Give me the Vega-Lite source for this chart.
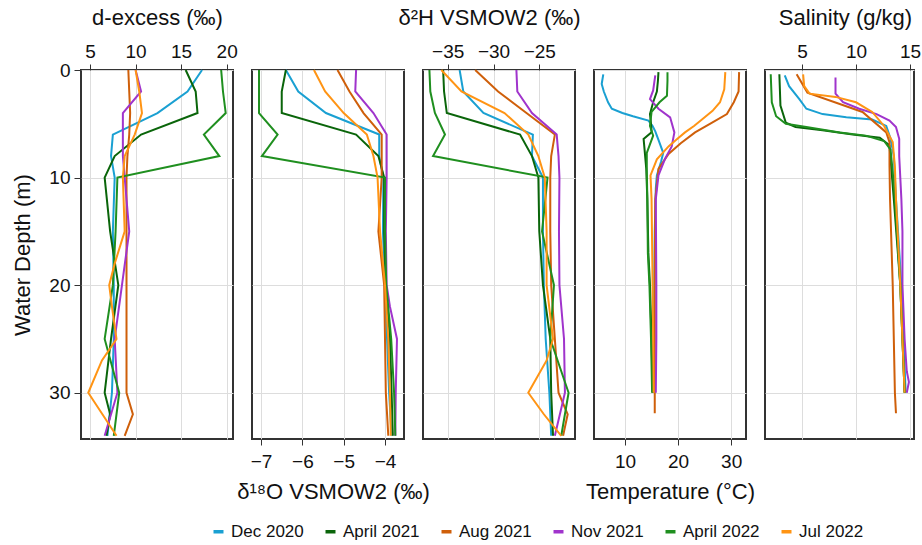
{
"$schema": "https://vega.github.io/schema/vega-lite/v6.json",
"padding": {"left": 10, "top": 5, "right": 5, "bottom": 5},
"background": "white",
"bounds": "flush",
"spacing": 19,
"datasets": {
"dex": [
{"s":"Dec 2020","d":0,"v":17.3},{"s":"Dec 2020","d":2,"v":15.7},{"s":"Dec 2020","d":4,"v":12.4},{"s":"Dec 2020","d":6,"v":7.5},{"s":"Dec 2020","d":8,"v":7.3},{"s":"Dec 2020","d":10,"v":7.7},{"s":"Dec 2020","d":15,"v":7.5},{"s":"Dec 2020","d":20,"v":7.6},{"s":"Dec 2020","d":25,"v":7.6},{"s":"Dec 2020","d":30,"v":7.4},{"s":"Dec 2020","d":34,"v":6.9},
{"s":"April 2021","d":0,"v":15.5},{"s":"April 2021","d":2,"v":16.6},{"s":"April 2021","d":4,"v":16.8},{"s":"April 2021","d":6,"v":10.6},{"s":"April 2021","d":8,"v":7.7},{"s":"April 2021","d":10,"v":6.6},{"s":"April 2021","d":15,"v":7.2},{"s":"April 2021","d":20,"v":8.1},{"s":"April 2021","d":25,"v":7.3},{"s":"April 2021","d":30,"v":6.6},{"s":"April 2021","d":32,"v":7.2},{"s":"April 2021","d":34,"v":6.8},
{"s":"Aug 2021","d":0,"v":9.2},{"s":"Aug 2021","d":2,"v":9.3},{"s":"Aug 2021","d":4,"v":9.4},{"s":"Aug 2021","d":6,"v":9.3},{"s":"Aug 2021","d":8,"v":9.1},{"s":"Aug 2021","d":10,"v":9.0},{"s":"Aug 2021","d":15,"v":9.0},{"s":"Aug 2021","d":20,"v":9.0},{"s":"Aug 2021","d":25,"v":9.0},{"s":"Aug 2021","d":30,"v":9.0},{"s":"Aug 2021","d":32,"v":9.7},{"s":"Aug 2021","d":34,"v":8.8},
{"s":"Nov 2021","d":0,"v":10.0},{"s":"Nov 2021","d":2,"v":10.6},{"s":"Nov 2021","d":4,"v":8.6},{"s":"Nov 2021","d":6,"v":8.6},{"s":"Nov 2021","d":8,"v":8.6},{"s":"Nov 2021","d":10,"v":8.8},{"s":"Nov 2021","d":15,"v":9.3},{"s":"Nov 2021","d":20,"v":8.5},{"s":"Nov 2021","d":25,"v":7.7},{"s":"Nov 2021","d":30,"v":8.0},{"s":"Nov 2021","d":34,"v":6.6},
{"s":"April 2022","d":0,"v":19.4},{"s":"April 2022","d":2,"v":19.6},{"s":"April 2022","d":4,"v":19.9},{"s":"April 2022","d":6,"v":17.5},{"s":"April 2022","d":8,"v":19.2},{"s":"April 2022","d":10,"v":8.0},{"s":"April 2022","d":15,"v":7.8},{"s":"April 2022","d":20,"v":7.5},{"s":"April 2022","d":25,"v":6.6},{"s":"April 2022","d":30,"v":8.2},{"s":"April 2022","d":34,"v":7.6},
{"s":"Jul 2022","d":0,"v":10.0},{"s":"Jul 2022","d":2,"v":10.4},{"s":"Jul 2022","d":4,"v":10.7},{"s":"Jul 2022","d":6,"v":9.9},{"s":"Jul 2022","d":8,"v":8.8},{"s":"Jul 2022","d":10,"v":8.6},{"s":"Jul 2022","d":15,"v":8.8},{"s":"Jul 2022","d":18,"v":7.7},{"s":"Jul 2022","d":20,"v":7.1},{"s":"Jul 2022","d":22,"v":7.4},{"s":"Jul 2022","d":25,"v":7.9},{"s":"Jul 2022","d":27,"v":6.3},{"s":"Jul 2022","d":30,"v":4.8},{"s":"Jul 2022","d":34,"v":7.9}
],
"o18": [
{"s":"Dec 2020","d":0,"v":-6.4},{"s":"Dec 2020","d":2,"v":-6.1},{"s":"Dec 2020","d":4,"v":-5.43},{"s":"Dec 2020","d":6,"v":-4.14},{"s":"Dec 2020","d":8,"v":-4.14},{"s":"Dec 2020","d":10,"v":-4.04},{"s":"Dec 2020","d":15,"v":-4.05},{"s":"Dec 2020","d":20,"v":-4.0},{"s":"Dec 2020","d":25,"v":-3.95},{"s":"Dec 2020","d":30,"v":-3.9},{"s":"Dec 2020","d":34,"v":-3.84},
{"s":"April 2021","d":0,"v":-6.4},{"s":"April 2021","d":2,"v":-6.5},{"s":"April 2021","d":4,"v":-6.5},{"s":"April 2021","d":6,"v":-4.7},{"s":"April 2021","d":8,"v":-4.16},{"s":"April 2021","d":10,"v":-4.02},{"s":"April 2021","d":15,"v":-4.02},{"s":"April 2021","d":20,"v":-3.98},{"s":"April 2021","d":25,"v":-3.88},{"s":"April 2021","d":30,"v":-3.84},{"s":"April 2021","d":34,"v":-3.81},
{"s":"Aug 2021","d":0,"v":-5.15},{"s":"Aug 2021","d":2,"v":-4.86},{"s":"Aug 2021","d":4,"v":-4.52},{"s":"Aug 2021","d":6,"v":-4.08},{"s":"Aug 2021","d":8,"v":-4.08},{"s":"Aug 2021","d":10,"v":-4.08},{"s":"Aug 2021","d":15,"v":-4.16},{"s":"Aug 2021","d":20,"v":-4.02},{"s":"Aug 2021","d":25,"v":-4.0},{"s":"Aug 2021","d":30,"v":-3.98},{"s":"Aug 2021","d":34,"v":-3.92},
{"s":"Nov 2021","d":0,"v":-4.7},{"s":"Nov 2021","d":2,"v":-4.72},{"s":"Nov 2021","d":4,"v":-4.28},{"s":"Nov 2021","d":6,"v":-3.96},{"s":"Nov 2021","d":8,"v":-3.96},{"s":"Nov 2021","d":10,"v":-3.96},{"s":"Nov 2021","d":15,"v":-3.98},{"s":"Nov 2021","d":20,"v":-3.96},{"s":"Nov 2021","d":22,"v":-3.88},{"s":"Nov 2021","d":25,"v":-3.71},{"s":"Nov 2021","d":30,"v":-3.74},{"s":"Nov 2021","d":34,"v":-3.75},
{"s":"April 2022","d":0,"v":-7.05},{"s":"April 2022","d":2,"v":-7.05},{"s":"April 2022","d":4,"v":-7.05},{"s":"April 2022","d":6,"v":-6.6},{"s":"April 2022","d":8,"v":-6.98},{"s":"April 2022","d":10,"v":-4.0},{"s":"April 2022","d":15,"v":-4.0},{"s":"April 2022","d":20,"v":-3.97},{"s":"April 2022","d":25,"v":-3.85},{"s":"April 2022","d":30,"v":-3.78},{"s":"April 2022","d":34,"v":-3.75},
{"s":"Jul 2022","d":0,"v":-5.72},{"s":"Jul 2022","d":2,"v":-5.45},{"s":"Jul 2022","d":4,"v":-5.0},{"s":"Jul 2022","d":6,"v":-4.44},{"s":"Jul 2022","d":8,"v":-4.28},{"s":"Jul 2022","d":10,"v":-4.18},{"s":"Jul 2022","d":15,"v":-4.12},{"s":"Jul 2022","d":20,"v":-4.0},{"s":"Jul 2022","d":25,"v":-3.92},{"s":"Jul 2022","d":30,"v":-3.88},{"s":"Jul 2022","d":34,"v":-3.86}
],
"h2": [
{"s":"Dec 2020","d":0,"v":-33.7},{"s":"Dec 2020","d":2,"v":-33.3},{"s":"Dec 2020","d":4,"v":-31.1},{"s":"Dec 2020","d":6,"v":-25.7},{"s":"Dec 2020","d":8,"v":-25.8},{"s":"Dec 2020","d":10,"v":-24.6},{"s":"Dec 2020","d":15,"v":-24.6},{"s":"Dec 2020","d":20,"v":-24.5},{"s":"Dec 2020","d":25,"v":-24.3},{"s":"Dec 2020","d":30,"v":-23.9},{"s":"Dec 2020","d":34,"v":-23.7},
{"s":"April 2021","d":0,"v":-35.5},{"s":"April 2021","d":2,"v":-35.4},{"s":"April 2021","d":4,"v":-35.1},{"s":"April 2021","d":6,"v":-27.1},{"s":"April 2021","d":8,"v":-25.8},{"s":"April 2021","d":10,"v":-25.1},{"s":"April 2021","d":15,"v":-25.0},{"s":"April 2021","d":20,"v":-24.6},{"s":"April 2021","d":25,"v":-23.8},{"s":"April 2021","d":30,"v":-23.7},{"s":"April 2021","d":34,"v":-23.5},
{"s":"Aug 2021","d":0,"v":-32.0},{"s":"Aug 2021","d":2,"v":-29.5},{"s":"Aug 2021","d":4,"v":-26.4},{"s":"Aug 2021","d":6,"v":-23.3},{"s":"Aug 2021","d":8,"v":-23.7},{"s":"Aug 2021","d":10,"v":-23.8},{"s":"Aug 2021","d":15,"v":-23.8},{"s":"Aug 2021","d":20,"v":-23.7},{"s":"Aug 2021","d":25,"v":-23.3},{"s":"Aug 2021","d":30,"v":-22.9},{"s":"Aug 2021","d":32,"v":-21.9},{"s":"Aug 2021","d":34,"v":-22.4},
{"s":"Nov 2021","d":0,"v":-27.5},{"s":"Nov 2021","d":2,"v":-27.4},{"s":"Nov 2021","d":4,"v":-25.8},{"s":"Nov 2021","d":6,"v":-23.1},{"s":"Nov 2021","d":8,"v":-22.9},{"s":"Nov 2021","d":10,"v":-22.8},{"s":"Nov 2021","d":15,"v":-22.85},{"s":"Nov 2021","d":20,"v":-22.8},{"s":"Nov 2021","d":25,"v":-22.3},{"s":"Nov 2021","d":30,"v":-22.2},{"s":"Nov 2021","d":34,"v":-23.3},
{"s":"April 2022","d":0,"v":-37.0},{"s":"April 2022","d":2,"v":-36.9},{"s":"April 2022","d":4,"v":-36.4},{"s":"April 2022","d":6,"v":-35.3},{"s":"April 2022","d":8,"v":-36.6},{"s":"April 2022","d":10,"v":-24.1},{"s":"April 2022","d":15,"v":-24.7},{"s":"April 2022","d":20,"v":-23.4},{"s":"April 2022","d":25,"v":-23.8},{"s":"April 2022","d":30,"v":-21.8},{"s":"April 2022","d":34,"v":-22.6},
{"s":"Jul 2022","d":0,"v":-35.7},{"s":"Jul 2022","d":2,"v":-33.5},{"s":"Jul 2022","d":4,"v":-28.8},{"s":"Jul 2022","d":6,"v":-26.2},{"s":"Jul 2022","d":8,"v":-25.1},{"s":"Jul 2022","d":10,"v":-24.4},{"s":"Jul 2022","d":15,"v":-24.2},{"s":"Jul 2022","d":20,"v":-24.2},{"s":"Jul 2022","d":25,"v":-23.5},{"s":"Jul 2022","d":27,"v":-24.2},{"s":"Jul 2022","d":30,"v":-26.2},{"s":"Jul 2022","d":32,"v":-24.5},{"s":"Jul 2022","d":34,"v":-22.6}
],
"temp": [
{"s":"Dec 2020","d":0.4,"v":5.9},{"s":"Dec 2020","d":1,"v":5.7},{"s":"Dec 2020","d":1.3,"v":5.6},{"s":"Dec 2020","d":2,"v":6.0},{"s":"Dec 2020","d":3,"v":6.8},{"s":"Dec 2020","d":3.6,"v":7.5},{"s":"Dec 2020","d":4,"v":9.5},{"s":"Dec 2020","d":4.3,"v":11.5},{"s":"Dec 2020","d":4.7,"v":14.4},{"s":"Dec 2020","d":5.2,"v":15.2},{"s":"Dec 2020","d":5.7,"v":15.7},{"s":"Dec 2020","d":6.5,"v":16.3},{"s":"Dec 2020","d":7.7,"v":17.2},{"s":"Dec 2020","d":8.5,"v":16.8},{"s":"Dec 2020","d":9.8,"v":16.0},{"s":"Dec 2020","d":11,"v":15.8},{"s":"Dec 2020","d":15,"v":15.6},{"s":"Dec 2020","d":20,"v":15.5},{"s":"Dec 2020","d":25,"v":15.4},{"s":"Dec 2020","d":30,"v":15.3},
{"s":"April 2021","d":0.2,"v":16.3},{"s":"April 2021","d":1,"v":16.2},{"s":"April 2021","d":2,"v":16.0},{"s":"April 2021","d":3,"v":15.3},{"s":"April 2021","d":4.1,"v":14.7},{"s":"April 2021","d":5,"v":14.9},{"s":"April 2021","d":5.8,"v":15.0},{"s":"April 2021","d":6.4,"v":13.5},{"s":"April 2021","d":7.5,"v":13.7},{"s":"April 2021","d":9.2,"v":14.0},{"s":"April 2021","d":12,"v":14.2},{"s":"April 2021","d":17,"v":14.4},{"s":"April 2021","d":20,"v":14.7},{"s":"April 2021","d":25,"v":15.0},{"s":"April 2021","d":30,"v":15.2},
{"s":"Aug 2021","d":0.2,"v":31.5},{"s":"Aug 2021","d":2,"v":31.4},{"s":"Aug 2021","d":3,"v":30.5},{"s":"Aug 2021","d":4.1,"v":29.2},{"s":"Aug 2021","d":5,"v":26.0},{"s":"Aug 2021","d":5.8,"v":23.2},{"s":"Aug 2021","d":6.8,"v":20.5},{"s":"Aug 2021","d":7.8,"v":18.2},{"s":"Aug 2021","d":9.2,"v":16.3},{"s":"Aug 2021","d":12,"v":15.7},{"s":"Aug 2021","d":20,"v":15.6},{"s":"Aug 2021","d":25,"v":15.6},{"s":"Aug 2021","d":30,"v":15.6},{"s":"Aug 2021","d":31.9,"v":15.6},
{"s":"Nov 2021","d":0.5,"v":15.7},{"s":"Nov 2021","d":1.9,"v":15.3},{"s":"Nov 2021","d":2.7,"v":14.7},{"s":"Nov 2021","d":3.6,"v":16.3},{"s":"Nov 2021","d":4.4,"v":18.5},{"s":"Nov 2021","d":5.8,"v":19.3},{"s":"Nov 2021","d":7.1,"v":18.8},{"s":"Nov 2021","d":8.3,"v":17.5},{"s":"Nov 2021","d":9.8,"v":16.3},{"s":"Nov 2021","d":12,"v":15.8},{"s":"Nov 2021","d":20,"v":15.9},{"s":"Nov 2021","d":25,"v":15.9},{"s":"Nov 2021","d":30,"v":15.8},
{"s":"April 2022","d":0.2,"v":18.0},{"s":"April 2022","d":1,"v":18.0},{"s":"April 2022","d":2.4,"v":17.9},{"s":"April 2022","d":3,"v":16.5},{"s":"April 2022","d":3.9,"v":15.0},{"s":"April 2022","d":5.2,"v":14.7},{"s":"April 2022","d":6.1,"v":15.3},{"s":"April 2022","d":7.7,"v":14.1},{"s":"April 2022","d":9.2,"v":14.1},{"s":"April 2022","d":12,"v":14.2},{"s":"April 2022","d":17,"v":14.3},{"s":"April 2022","d":20,"v":14.6},{"s":"April 2022","d":25,"v":14.9},{"s":"April 2022","d":30,"v":15.1},
{"s":"Jul 2022","d":0.2,"v":28.9},{"s":"Jul 2022","d":1.8,"v":28.7},{"s":"Jul 2022","d":3,"v":27.9},{"s":"Jul 2022","d":3.8,"v":26.5},{"s":"Jul 2022","d":4.6,"v":24.5},{"s":"Jul 2022","d":5.2,"v":23.0},{"s":"Jul 2022","d":5.8,"v":21.3},{"s":"Jul 2022","d":6.5,"v":19.6},{"s":"Jul 2022","d":7.1,"v":18.2},{"s":"Jul 2022","d":8.3,"v":16.0},{"s":"Jul 2022","d":9.8,"v":14.8},{"s":"Jul 2022","d":12,"v":15.0},{"s":"Jul 2022","d":20,"v":15.2},{"s":"Jul 2022","d":25,"v":15.3},{"s":"Jul 2022","d":30,"v":15.4}
],
"sal": [
{"s":"Dec 2020","d":0.5,"v":3.4},{"s":"Dec 2020","d":1.5,"v":3.8},{"s":"Dec 2020","d":2.7,"v":4.75},{"s":"Dec 2020","d":3.6,"v":5.4},{"s":"Dec 2020","d":4.1,"v":6.9},{"s":"Dec 2020","d":4.4,"v":9.1},{"s":"Dec 2020","d":4.6,"v":11.5},{"s":"Dec 2020","d":5.2,"v":12.8},{"s":"Dec 2020","d":6.4,"v":13.2},{"s":"Dec 2020","d":8,"v":13.5},{"s":"Dec 2020","d":12,"v":13.7},{"s":"Dec 2020","d":20,"v":14.2},{"s":"Dec 2020","d":25,"v":14.4},{"s":"Dec 2020","d":30,"v":14.6},
{"s":"April 2021","d":0.4,"v":2.9},{"s":"April 2021","d":3.3,"v":3.0},{"s":"April 2021","d":4.9,"v":3.5},{"s":"April 2021","d":5.3,"v":4.4},{"s":"April 2021","d":5.6,"v":6.9},{"s":"April 2021","d":6,"v":9.7},{"s":"April 2021","d":6.3,"v":12.2},{"s":"April 2021","d":7,"v":13.1},{"s":"April 2021","d":8.3,"v":13.2},{"s":"April 2021","d":12,"v":13.5},{"s":"April 2021","d":20,"v":14.1},{"s":"April 2021","d":25,"v":14.3},{"s":"April 2021","d":30,"v":14.5},
{"s":"Aug 2021","d":0.4,"v":4.5},{"s":"Aug 2021","d":2.1,"v":5.5},{"s":"Aug 2021","d":3.9,"v":10.6},{"s":"Aug 2021","d":5.8,"v":12.8},{"s":"Aug 2021","d":6.7,"v":13.1},{"s":"Aug 2021","d":8.9,"v":13.1},{"s":"Aug 2021","d":12,"v":13.15},{"s":"Aug 2021","d":20,"v":13.4},{"s":"Aug 2021","d":25,"v":13.5},{"s":"Aug 2021","d":30,"v":13.6},{"s":"Aug 2021","d":31.9,"v":13.7},
{"s":"Nov 2021","d":0.7,"v":8.1},{"s":"Nov 2021","d":2.2,"v":8.1},{"s":"Nov 2021","d":3,"v":8.8},{"s":"Nov 2021","d":3.6,"v":10.3},{"s":"Nov 2021","d":4.1,"v":11.9},{"s":"Nov 2021","d":4.7,"v":13.1},{"s":"Nov 2021","d":5.3,"v":13.7},{"s":"Nov 2021","d":6.4,"v":14.0},{"s":"Nov 2021","d":8,"v":14.0},{"s":"Nov 2021","d":10,"v":14.1},{"s":"Nov 2021","d":12,"v":14.2},{"s":"Nov 2021","d":15,"v":14.3},{"s":"Nov 2021","d":20,"v":14.3},{"s":"Nov 2021","d":25,"v":14.5},{"s":"Nov 2021","d":28,"v":14.7},{"s":"Nov 2021","d":29,"v":14.9},{"s":"Nov 2021","d":30,"v":14.7},
{"s":"April 2022","d":0.4,"v":2.1},{"s":"April 2022","d":3,"v":2.2},{"s":"April 2022","d":4.3,"v":2.6},{"s":"April 2022","d":5,"v":3.5},{"s":"April 2022","d":5.3,"v":5.4},{"s":"April 2022","d":5.8,"v":8.5},{"s":"April 2022","d":6.1,"v":10.9},{"s":"April 2022","d":6.6,"v":12.6},{"s":"April 2022","d":7.4,"v":13.2},{"s":"April 2022","d":9.5,"v":13.4},{"s":"April 2022","d":12,"v":13.6},{"s":"April 2022","d":20,"v":14.1},{"s":"April 2022","d":25,"v":14.3},{"s":"April 2022","d":30,"v":14.5},
{"s":"Jul 2022","d":0.4,"v":5.1},{"s":"Jul 2022","d":1.5,"v":5.2},{"s":"Jul 2022","d":2.2,"v":5.7},{"s":"Jul 2022","d":2.5,"v":8.1},{"s":"Jul 2022","d":3,"v":10.0},{"s":"Jul 2022","d":3.9,"v":11.5},{"s":"Jul 2022","d":5.2,"v":12.6},{"s":"Jul 2022","d":6.7,"v":13.4},{"s":"Jul 2022","d":9,"v":13.6},{"s":"Jul 2022","d":12,"v":13.7},{"s":"Jul 2022","d":20,"v":14.1},{"s":"Jul 2022","d":25,"v":14.3},{"s":"Jul 2022","d":30,"v":14.5}
]
},
"hconcat": [
{
"data": {"name": "dex"},
"width": 152, "height": 369,
"mark": {"type": "line", "strokeWidth": 2},
"encoding": {
"x": {"field": "v", "type": "quantitative", "scale": {"domain": [4.0, 20.7], "nice": false, "zero": false}, "axis": {"orient": "top", "values": [5,10,15,20], "title": "d-excess (‰)", "titlePadding": 13}},
"y": {"field": "d", "type": "quantitative", "scale": {"domain": [0, 34.3], "nice": false, "reverse": true}, "axis": {"values": [0,10,20,30], "title": "Water Depth (m)", "tickSize": 7, "labelPadding": 4, "titlePadding": 14}},
"order": {"field": "d", "type": "quantitative"},
"color": {"field": "s", "type": "nominal", "scale": {"domain": ["Dec 2020","April 2021","Aug 2021","Nov 2021","April 2022","Jul 2022"], "range": ["#1aa0d2","#0a650a","#cf5f0a","#a034cc","#1f8f1f","#ff9414"]}, "legend": {"orient": "none", "legendX": 129, "legendY": 453, "direction": "horizontal", "title": null}}
}
},
{
"data": {"name": "o18"},
"width": 152, "height": 369,
"mark": {"type": "line", "strokeWidth": 2},
"encoding": {
"x": {"field": "v", "type": "quantitative", "scale": {"domain": [-7.22, -3.54], "nice": false, "zero": false}, "axis": {"orient": "bottom", "values": [-7,-6,-5,-4], "title": "δ¹⁸O VSMOW2 (‰)", "labelPadding": 7, "titleX": 81}},
"y": {"field": "d", "type": "quantitative", "scale": {"domain": [0, 34.3], "nice": false, "reverse": true}, "axis": {"values": [0,10,20,30], "labels": false, "ticks": false, "title": null}},
"order": {"field": "d", "type": "quantitative"},
"color": {"field": "s", "type": "nominal", "scale": {"domain": ["Dec 2020","April 2021","Aug 2021","Nov 2021","April 2022","Jul 2022"], "range": ["#1aa0d2","#0a650a","#cf5f0a","#a034cc","#1f8f1f","#ff9414"]}, "legend": {"orient": "none", "legendX": 129, "legendY": 453, "direction": "horizontal", "title": null}}
}
},
{
"data": {"name": "h2"},
"width": 152, "height": 369,
"mark": {"type": "line", "strokeWidth": 2},
"encoding": {
"x": {"field": "v", "type": "quantitative", "scale": {"domain": [-37.7, -21.1], "nice": false, "zero": false}, "axis": {"orient": "top", "values": [-35,-30,-25], "title": "δ²H VSMOW2 (‰)", "titlePadding": 13, "titleX": 66}},
"y": {"field": "d", "type": "quantitative", "scale": {"domain": [0, 34.3], "nice": false, "reverse": true}, "axis": {"values": [0,10,20,30], "labels": false, "ticks": false, "title": null}},
"order": {"field": "d", "type": "quantitative"},
"color": {"field": "s", "type": "nominal", "scale": {"domain": ["Dec 2020","April 2021","Aug 2021","Nov 2021","April 2022","Jul 2022"], "range": ["#1aa0d2","#0a650a","#cf5f0a","#a034cc","#1f8f1f","#ff9414"]}, "legend": {"orient": "none", "legendX": 129, "legendY": 453, "direction": "horizontal", "title": null}}
}
},
{
"data": {"name": "temp"},
"width": 152, "height": 369,
"mark": {"type": "line", "strokeWidth": 2},
"encoding": {
"x": {"field": "v", "type": "quantitative", "scale": {"domain": [4.15, 32.8], "nice": false, "zero": false}, "axis": {"orient": "bottom", "values": [10,20,30], "title": "Temperature (°C)", "labelPadding": 7}},
"y": {"field": "d", "type": "quantitative", "scale": {"domain": [0, 34.3], "nice": false, "reverse": true}, "axis": {"values": [0,10,20,30], "labels": false, "ticks": false, "title": null}},
"order": {"field": "d", "type": "quantitative"},
"color": {"field": "s", "type": "nominal", "scale": {"domain": ["Dec 2020","April 2021","Aug 2021","Nov 2021","April 2022","Jul 2022"], "range": ["#1aa0d2","#0a650a","#cf5f0a","#a034cc","#1f8f1f","#ff9414"]}, "legend": {"orient": "none", "legendX": 129, "legendY": 453, "direction": "horizontal", "title": null}}
}
},
{
"data": {"name": "sal"},
"width": 149, "height": 369,
"mark": {"type": "line", "strokeWidth": 2},
"encoding": {
"x": {"field": "v", "type": "quantitative", "scale": {"domain": [1.57, 15.37], "nice": false, "zero": false}, "axis": {"orient": "top", "values": [5,10,15], "title": "Salinity (g/kg)", "titlePadding": 13, "titleX": 80}},
"y": {"field": "d", "type": "quantitative", "scale": {"domain": [0, 34.3], "nice": false, "reverse": true}, "axis": {"values": [0,10,20,30], "labels": false, "ticks": false, "title": null}},
"order": {"field": "d", "type": "quantitative"},
"color": {"field": "s", "type": "nominal", "scale": {"domain": ["Dec 2020","April 2021","Aug 2021","Nov 2021","April 2022","Jul 2022"], "range": ["#1aa0d2","#0a650a","#cf5f0a","#a034cc","#1f8f1f","#ff9414"]}, "legend": {"orient": "none", "legendX": 129, "legendY": 453, "direction": "horizontal", "title": null}}
}
}
],
"config": {
"font": "Liberation Sans",
"view": {"stroke": "#333333", "strokeWidth": 2},
"axis": {"labelFontSize": 19, "titleFontSize": 22, "titleFontWeight": "normal", "labelColor": "#111111", "titleColor": "#111111", "gridColor": "#dddddd", "gridWidth": 1, "tickColor": "#333333", "tickSize": 6, "labelPadding": 3, "titlePadding": 10, "domain": false, "titleLimit": 400, "labelFlush": false},
"legend": {"symbolType": "stroke", "symbolStrokeWidth": 3.5, "symbolSize": 100, "labelFontSize": 17, "columnPadding": 14, "symbolOffset": 0, "labelColor": "#111111"}
}
}
